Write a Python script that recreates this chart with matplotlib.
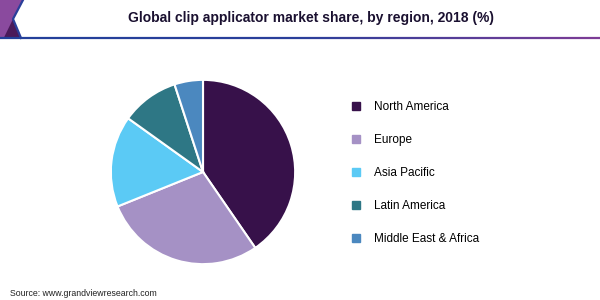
import matplotlib.pyplot as plt
from matplotlib.patches import Polygon
from matplotlib.lines import Line2D
from matplotlib.colors import LinearSegmentedColormap
import numpy as np

plt.rcParams['font.family'] = ['Liberation Sans', 'DejaVu Sans']

regions = ['North America', 'Europe', 'Asia Pacific', 'Latin America', 'Middle East & Africa']
shares = [40.4, 28.5, 16.0, 10.1, 5.0]
colors = ['#37114a', '#a591c5', '#5bcaf5', '#2e7785', '#4b88bf']

fig = plt.figure(figsize=(6, 3), dpi=100)

# header decoration
deco = fig.add_axes([0, 0, 1, 1])
deco.set_xlim(0, 600)
deco.set_ylim(300, 0)
deco.axis('off')
deco.add_patch(Polygon([(0, 0), (23, 0), (13, 19), (21, 37.5), (0, 37.5)], closed=True,
                       facecolor='#8a4a9e', edgecolor='none'))
deco.add_patch(Polygon([(4, 37.5), (13, 19), (21, 37.5)], closed=True,
                       facecolor='#4a1a5a', edgecolor='none'))
deco.plot([23, 13, 21], [0, 19, 38], color='#2a3f9a', lw=1.6)
grad = LinearSegmentedColormap.from_list('hdr', ['#23409a', '#2a3f9a', '#7d3c96'])
xs = np.linspace(0, 600, 200)
for i in range(len(xs) - 1):
    deco.plot(xs[i:i + 2], [38.3, 38.3], color=grad(i / (len(xs) - 2)), lw=1.6,
              solid_capstyle='butt')
fig.text(0.519, 0.94, 'Global clip applicator market share, by region, 2018 (%)',
         ha='center', va='center', fontsize=10, fontweight='bold', color='#1a1030')

ax = fig.add_axes([0.1817, 0.1133, 0.3133, 0.6267])
wedges, _ = ax.pie(shares, colors=colors, startangle=90, counterclock=False,
                   wedgeprops=dict(edgecolor='white', linewidth=1.5))
ax.set_xlim(-1.02, 1.02)
ax.set_ylim(-1.02, 1.02)
ax.set_aspect('equal')

handles = [Line2D([], [], marker='s', linestyle='none', markersize=5.5,
                  markerfacecolor=c, markeredgecolor=c) for c in colors]
fig.legend(handles, regions, loc='upper left', bbox_to_anchor=(0.575, 0.678),
           frameon=False, fontsize=8.5, labelspacing=1.78, handletextpad=1.05,
           handlelength=1.0, borderaxespad=0)

fig.text(0.017, 0.023, 'Source: www.grandviewresearch.com', fontsize=6.3,
         ha='left', va='center', color='#222222')

fig.savefig('out.png', dpi=100)
